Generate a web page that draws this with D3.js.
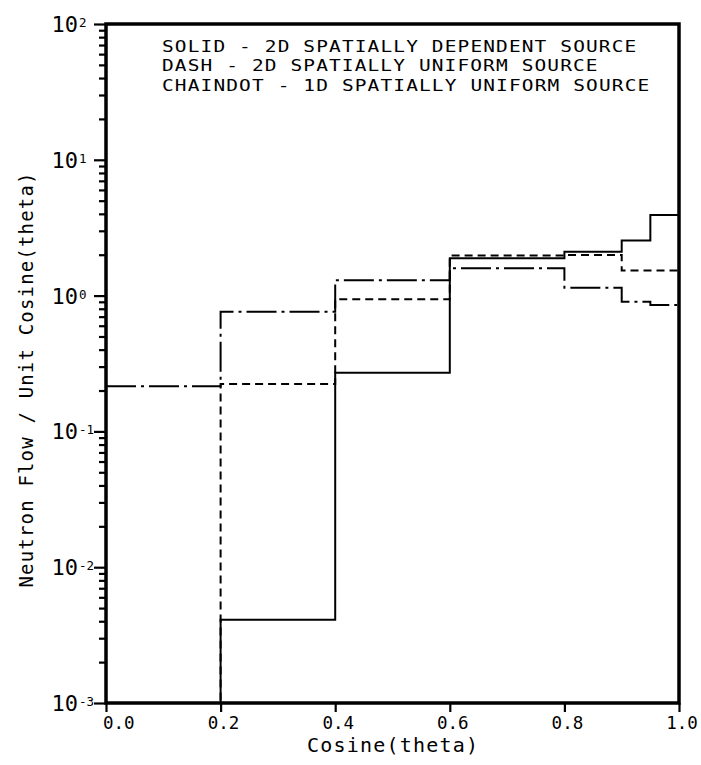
<!DOCTYPE html>
<html>
<head>
<meta charset="utf-8">
<script src="https://cdn.jsdelivr.net/npm/d3@7"></script>
<style>
  body { margin: 0; background: #fff; }
  text { font-family: "DejaVu Sans Mono", monospace; fill: #000; }
</style>
</head>
<body>
<svg id="chart" width="701" height="765"></svg>
<script>
// Angular bins (cosine of theta) and neutron flow per unit cosine in each bin
const binEdges = [0.0, 0.2, 0.4, 0.6, 0.8, 0.9, 0.95, 1.0];
const solidFlow = [0, 0.0041, 0.27, 1.88, 2.10, 2.54, 3.92];      // 2D spatially dependent source
const dashFlow = [0, 0.223, 0.94, 1.97, 1.99, 1.53, 1.53];        // 2D spatially uniform source
const chaindotFlow = [0.215, 0.76, 1.30, 1.59, 1.14, 0.90, 0.853]; // 1D spatially uniform source

const xTickValues = [0.0, 0.2, 0.4, 0.6, 0.8, 1.0];
const xTickLabels = ["0.0", "0.2", "0.4", "0.6", "0.8", "1.0"];
const yDecadeExponents = [-3, -2, -1, 0, 1, 2];

const legendLines = [
  "SOLID - 2D SPATIALLY DEPENDENT SOURCE",
  "DASH - 2D SPATIALLY UNIFORM SOURCE",
  "CHAINDOT - 1D SPATIALLY UNIFORM SOURCE"
];
const xTitle = "Cosine(theta)";
const yTitle = "Neutron Flow / Unit Cosine(theta)";

const svg = d3.select("#chart");
const plot = { left: 106, right: 679, top: 24, bottom: 703 };

const x = d3.scaleLinear().domain([0, 1]).range([plot.left, plot.right]);
const y = d3.scaleLog().domain([1e-3, 1e2]).range([plot.bottom, plot.top]);

// zero flow sits below the plotted range: pin it to the bottom edge
const yPos = v => (v > 0 ? y(v) : plot.bottom);

// clip region for the histogram lines
svg.append("defs").append("clipPath").attr("id", "plotClip")
  .append("rect")
  .attr("x", plot.left).attr("y", plot.top)
  .attr("width", plot.right - plot.left).attr("height", plot.bottom - plot.top);

const stepLine = d3.line()
  .x(d => x(d[0]))
  .y(d => yPos(d[1]))
  .curve(d3.curveStepAfter);

function histogramPoints(values) {
  return binEdges.map((e, i) => [e, values[Math.min(i, values.length - 1)]]);
}

const series = [
  { values: solidFlow, dash: null },
  { values: dashFlow, dash: "8,5" },
  { values: chaindotFlow, dash: "30,5,3,5" }
];

const lines = svg.append("g").attr("clip-path", "url(#plotClip)");
series.forEach(s => {
  lines.append("path")
    .attr("d", stepLine(histogramPoints(s.values)))
    .attr("fill", "none")
    .attr("stroke", "#000")
    .attr("stroke-width", 2)
    .attr("stroke-dasharray", s.dash);
});

// y axis: major ticks at decades, minor ticks at 2..9
const majorY = yDecadeExponents.map(e => Math.pow(10, e));
const minorY = [];
yDecadeExponents.slice(0, -1).forEach(e => {
  for (let k = 2; k <= 9; k++) minorY.push(k * Math.pow(10, e));
});

function styleAxis(g) {
  g.select(".domain").remove();
  g.selectAll(".tick line").attr("stroke", "#000").attr("stroke-width", 2.2);
  g.selectAll(".tick text").remove();
}

svg.append("g").attr("transform", `translate(${plot.left},0)`)
  .call(d3.axisLeft(y).tickValues(majorY).tickSize(12).tickFormat(""))
  .call(styleAxis);
svg.append("g").attr("transform", `translate(${plot.left},0)`)
  .call(d3.axisLeft(y).tickValues(minorY).tickSize(7).tickFormat(""))
  .call(styleAxis);

// y tick labels as powers of ten
yDecadeExponents.forEach(e => {
  const ty = y(Math.pow(10, e));
  svg.append("text")
    .attr("x", 78).attr("y", ty + 8)
    .attr("text-anchor", "end")
    .attr("font-size", 22)
    .text("10");
  svg.append("text")
    .attr("x", 79).attr("y", ty + 3)
    .attr("font-size", 12.5)
    .text(String(e));
});

// x axis ticks and labels
svg.append("g").attr("transform", `translate(0,${plot.bottom})`)
  .call(d3.axisBottom(x).tickValues(xTickValues).tickSize(9).tickFormat(""))
  .call(styleAxis);

xTickValues.forEach((v, i) => {
  const first = i === 0;
  svg.append("text")
    .attr("x", first ? x(v) - 3 : x(v) + 3)
    .attr("y", 729)
    .attr("text-anchor", first ? "start" : "middle")
    .attr("font-size", 17.5)
    .text(xTickLabels[i]);
});

// frame around the plot
svg.append("rect")
  .attr("x", plot.left).attr("y", plot.top)
  .attr("width", plot.right - plot.left).attr("height", plot.bottom - plot.top)
  .attr("fill", "none").attr("stroke", "#000").attr("stroke-width", 3.5);

// legend text: wide plotter-style glyphs on a fixed pitch
const legendPitch = 12.9;
const legendStretch = 1.18;
legendLines.forEach((t, i) => {
  svg.append("text")
    .attr("transform", `translate(162,${51.5 + i * 19.5}) scale(${legendStretch},1)`)
    .attr("font-size", 16.5)
    .attr("textLength", (t.length * legendPitch - 3) / legendStretch)
    .attr("lengthAdjust", "spacing")
    .text(t);
});

// axis titles
const titlePitch = 13.4;
svg.append("text")
  .attr("x", (plot.left + plot.right) / 2).attr("y", 752)
  .attr("text-anchor", "middle")
  .attr("font-size", 20)
  .attr("textLength", xTitle.length * titlePitch - 3)
  .attr("lengthAdjust", "spacing")
  .text(xTitle);

svg.append("text")
  .attr("transform", "translate(33,380) rotate(-90)")
  .attr("text-anchor", "middle")
  .attr("font-size", 19)
  .attr("textLength", 415)
  .attr("lengthAdjust", "spacing")
  .text(yTitle);
</script>
</body>
</html>
